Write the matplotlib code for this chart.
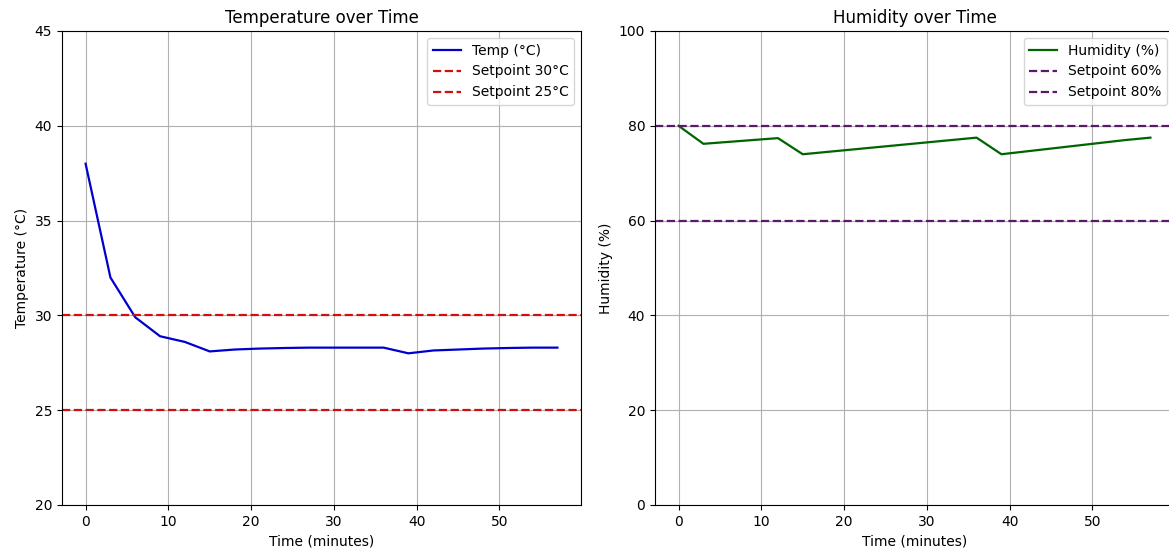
import matplotlib
matplotlib.use("Agg")
import matplotlib.pyplot as plt

# tempo em minutos (leitura a cada 3 minutos)
tempo = [0, 3, 6, 9, 12, 15, 18, 21, 24, 27, 30, 33, 36, 39, 42, 45, 48, 51, 54, 57]
temperatura = [38.0, 32.0, 29.9, 28.9, 28.6, 28.1, 28.2, 28.25, 28.28, 28.3,
               28.3, 28.3, 28.3, 28.0, 28.15, 28.2, 28.25, 28.28, 28.3, 28.3]
umidade = [80.0, 76.2, 76.6, 77.0, 77.4, 74.0, 74.5, 75.0, 75.5, 76.0,
           76.5, 77.0, 77.5, 74.0, 74.6, 75.2, 75.8, 76.4, 77.0, 77.5]

setpoints_temp = [30, 25]
setpoints_umid = [60, 80]

fig, (ax1, ax2) = plt.subplots(1, 2, figsize=(11.69, 5.51), dpi=100)
# posicoes dos eixos (o painel direito passa um pouco da borda)
ax1.set_position([62 / 1169, 46 / 551, 519 / 1169, 474 / 551])
ax2.set_position([655 / 1169, 46 / 551, 519 / 1169, 474 / 551])

# temperatura
ax1.plot(tempo, temperatura, color="mediumblue", linewidth=1.6, label="Temp (°C)")
for sp in setpoints_temp:
    ax1.axhline(sp, color="#d01010", linestyle="--", linewidth=1.6, label="Setpoint {}°C".format(sp))
ax1.set_ylim(20, 45)
ax1.set_title("Temperature over Time")
ax1.set_xlabel("Time (minutes)")
ax1.set_ylabel("Temperature (°C)")
ax1.grid(True)
ax1.legend(loc="upper right")

# umidade
ax2.plot(tempo, umidade, color="darkgreen", linewidth=1.6, label="Humidity (%)")
for sp in setpoints_umid:
    ax2.axhline(sp, color="#5a1a6a", linestyle="--", linewidth=1.6, label="Setpoint {}%".format(sp))
ax2.set_ylim(0, 100)
ax2.set_title("Humidity over Time")
ax2.set_xlabel("Time (minutes)")
ax2.set_ylabel("Humidity (%)")
ax2.grid(True)
ax2.legend(loc="upper right")

fig.savefig("out.png")
